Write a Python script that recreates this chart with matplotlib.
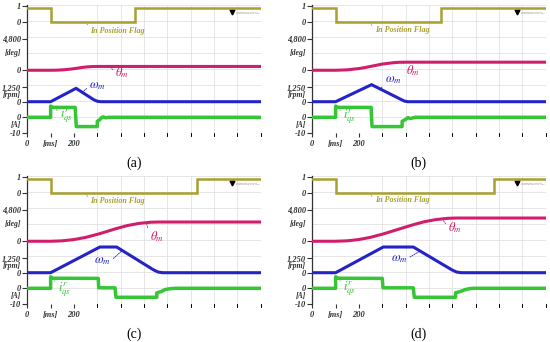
import matplotlib.pyplot as plt

plt.rcParams["mathtext.fontset"] = "stix"

# ---- data (time in ms) ----
# In Position Flag
flag_t_a = [0, 100, 100, 461, 461, 1000]
flag_a = [0.9, 0.9, -0.03, -0.03, 0.9, 0.9]
flag_t_b = [0, 100, 100, 550, 550, 1000]
flag_b = [0.9, 0.9, -0.03, -0.03, 0.9, 0.9]
flag_t_c = [0, 100, 100, 729, 729, 1000]
flag_c = [0.9, 0.9, -0.03, -0.03, 0.9, 0.9]
flag_t_d = [0, 100, 100, 779, 779, 1000]
flag_d = [0.9, 0.9, -0.03, -0.03, 0.9, 0.9]

# theta_m [deg]
theta_t_a = [0, 100, 130, 160, 190, 210, 235, 260, 280, 300, 1000]
theta_a = [0, 0, 20, 85, 195, 290, 430, 525, 565, 580, 580]
theta_t_b = [0, 100, 150, 200, 225, 254, 300, 350, 375, 400, 1000]
theta_b = [0, 0, 65, 260, 405, 615, 945, 1160, 1215, 1230, 1230]
theta_t_c = [0, 100, 150, 200, 250, 311, 350, 383, 430, 480, 530, 561, 1000]
theta_c = [0, 0, 65, 260, 586, 1160, 1588, 1950, 2399, 2727, 2900, 2930, 2930]
theta_t_d = [0, 100, 150, 200, 250, 304, 350, 400, 433, 480, 530, 580, 619, 1000]
theta_d = [0, 0, 67, 267, 602, 1113, 1615, 2162, 2522, 2970, 3305, 3492, 3537, 3537]

# omega_m [rpm]
omega_t_a = [0, 100, 209, 285, 300, 315, 1000]
omega_a = [0, 0, 1160, 170, 40, 0, 0]
omega_t_b = [0, 100, 254, 380, 395, 410, 1000]
omega_b = [0, 0, 1480, 200, 50, 0, 0]
omega_t_c = [0, 100, 311, 383, 540, 560, 580, 1000]
omega_c = [0, 0, 2230, 2230, 260, 60, 0, 0]
omega_t_d = [0, 100, 304, 433, 598, 618, 638, 1000]
omega_d = [0, 0, 2230, 2230, 250, 60, 0, 0]

# i_qs [A]
iqs_t_a = [0, 100, 100, 110, 205, 210, 300, 300, 310, 318, 326, 335, 350, 1000]
iqs_a = [0, 0, 7.0, 6.2, 6.2, -5.8, -5.8, -2.5, -1.6, -0.2, 0.3, -0.3, 0, 0]
iqs_t_b = [0, 100, 100, 110, 252, 256, 385, 385, 398, 410, 420, 440, 1000]
iqs_b = [0, 0, 7.0, 6.2, 6.2, -5.8, -5.8, -2.5, -1.5, -0.2, -0.8, 0, 0]
iqs_t_c = [0, 100, 100, 110, 304, 306, 376, 380, 555, 555, 575, 590, 610, 635, 1000]
iqs_c = [0, 0, 7.2, 6.3, 6.2, 0.3, 0.3, -5.6, -5.6, -2.8, -2.0, -0.8, -0.3, 0, 0]
iqs_t_d = [0, 100, 100, 110, 300, 303, 433, 437, 614, 614, 635, 655, 675, 690, 1000]
iqs_d = [0, 0, 7.2, 6.3, 6.2, 0.3, 0.3, -5.6, -5.6, -2.8, -2.0, -0.8, -0.2, 0, 0]

panel_tags = ["(a)", "(b)", "(c)", "(d)"]

# ---- styles ----
W, H = 550, 342
C_FLAG = "#a8a030"
C_THETA = "#d01e6c"
C_OMEGA = "#2323c8"
C_IQS = "#35c535"
INK = "#333333"
TICKFONT = dict(family="Liberation Serif", style="italic", weight="bold", size=6, color=INK)
UNITFONT = dict(TICKFONT, size=5.6)
LBLFONT = dict(family="Liberation Serif", style="italic", weight="bold")

# label / leader positions per panel: (xy on trace, text pos)
notes = {
    "flag": [((255, -0.1), (270, -0.55)), ((250, -0.1), (268, -0.5)),
             ((252, -0.1), (270, -0.5)), ((250, -0.1), (268, -0.47))],
    "theta": [((355, 520), (378, -380)), ((390, 1120), (403, -100)),
              ((512, 2550), (528, 700)), ((560, 3250), (583, 2070))],
    "omega": [((238, 850), (266, 1360)), ((295, 1100), (310, 1880)),
              ((405, 1900), (357, 1010)), ((455, 1800), (407, 1215))],
    "iqs": [((125, 5.0), (140, 1.0)), ((118, 4.6), (131, 0.4)),
            ((118, 4.8), (131, -0.6)), ((118, 4.8), (131, 0.0))],
}

fig = plt.figure(figsize=(W / 100, H / 100), dpi=100)
fig.patch.set_facecolor("white")

offsets = [(0, 0), (285, 0), (0, 171), (285, 171)]
flags = [(flag_t_a, flag_a), (flag_t_b, flag_b), (flag_t_c, flag_c), (flag_t_d, flag_d)]
thetas = [(theta_t_a, theta_a), (theta_t_b, theta_b), (theta_t_c, theta_c), (theta_t_d, theta_d)]
omegas = [(omega_t_a, omega_a), (omega_t_b, omega_b), (omega_t_c, omega_c), (omega_t_d, omega_d)]
currents = [(iqs_t_a, iqs_a), (iqs_t_b, iqs_b), (iqs_t_c, iqs_c), (iqs_t_d, iqs_d)]


def note(ax, k, text, color, size, key, right=False):
    xy, xyt = notes[key][k]
    ax.annotate(text, xy=xy, xytext=xyt, ha="right" if right else "left", va="center",
                color=color, fontsize=size, **LBLFONT,
                arrowprops=dict(arrowstyle="-", color=color, lw=0.6, ls=(0, (1.5, 1.2)),
                                shrinkA=0, shrinkB=0, relpos=(1, 0.5) if right else (0, 0.5)))


for k in range(4):
    ox, oy = offsets[k]
    rect = [(ox + 27.3) / W, 1 - (oy + 133.3) / H, 233.3 / W, 128 / H]

    # background: grid, left axis line, time ticks
    bg = fig.add_axes(rect)
    bg.set_xlim(0, 1000)
    bg.set_ylim(0, 8)
    bg.set_xticks(range(0, 1001, 100), minor=True)
    bg.set_yticks(range(0, 9), minor=True)
    bg.grid(which="minor", color="#e2e2e2", lw=0.6)
    bg.tick_params(which="minor", length=0)
    bg.set_yticks([])
    bg.set_xticks([0, 100, 200], ["0", "[ms]", "200"], **TICKFONT)
    bg.tick_params(axis="x", length=3, width=0.8, color=INK, pad=1.5)
    for s in ["top", "right", "bottom"]:
        bg.spines[s].set_visible(False)
    bg.spines["left"].set_color(INK)
    bg.spines["left"].set_linewidth(0.9)
    for y, u in [(5.02, "[deg]"), (2.4, "[rpm]"), (0.5, "[A]")]:
        bg.text(-0.026, y, u, transform=bg.get_yaxis_transform(), ha="right", va="center", **UNITFONT)
    # scope logo
    bg.plot([877], [7.58], marker="v", ms=3.5, color="black")
    bg.text(895, 7.5, "TELEDYNE LECROY\nEverywhere you look", fontsize=1.6, color="#888888",
            va="center", ha="left")

    def layer(ylim, ticks, labels):
        ax = fig.add_axes(rect, sharex=bg)
        ax.patch.set_visible(False)
        for s in ax.spines.values():
            s.set_visible(False)
        ax.set_ylim(*ylim)
        ax.set_yticks(ticks, labels, **TICKFONT)
        ax.tick_params(axis="y", length=3.5, width=0.8, color=INK, pad=1.2)
        ax.tick_params(axis="x", bottom=False, labelbottom=False)
        return ax

    a_flag = layer((-7.0, 1.04), [0, 1], ["0", "1"])
    a_theta = layer((-9598, 9890), [0, 4800], ["0", "4,800"])
    a_omega = layer((-2743, 8369), [0, 1250], ["0", "1,250"])
    a_iqs = layer((-10, 70), [-10, 0], ["-10", "0"])

    a_flag.plot(*flags[k], color=C_FLAG, lw=1.8, solid_joinstyle="miter")
    a_theta.plot(*thetas[k], color=C_THETA, lw=2.2)
    a_omega.plot(*omegas[k], color=C_OMEGA, lw=2.2)
    a_iqs.plot(*currents[k], color=C_IQS, lw=2.5)

    note(a_flag, k, "In Position Flag", C_FLAG, 5.8, "flag")
    note(a_theta, k, r"$\theta_m$", C_THETA, 9, "theta")
    note(a_omega, k, r"$\omega_m$", C_OMEGA, 9, "omega", right=(k >= 2))
    note(a_iqs, k, r"$i^{r}_{qs}$", C_IQS, 9, "iqs")

    fig.text((ox + 133.7) / W, 1 - (oy + 163) / H, panel_tags[k], ha="center", va="center",
             family="Liberation Serif", fontsize=10, color="black")

fig.savefig("out.png", dpi=100)
